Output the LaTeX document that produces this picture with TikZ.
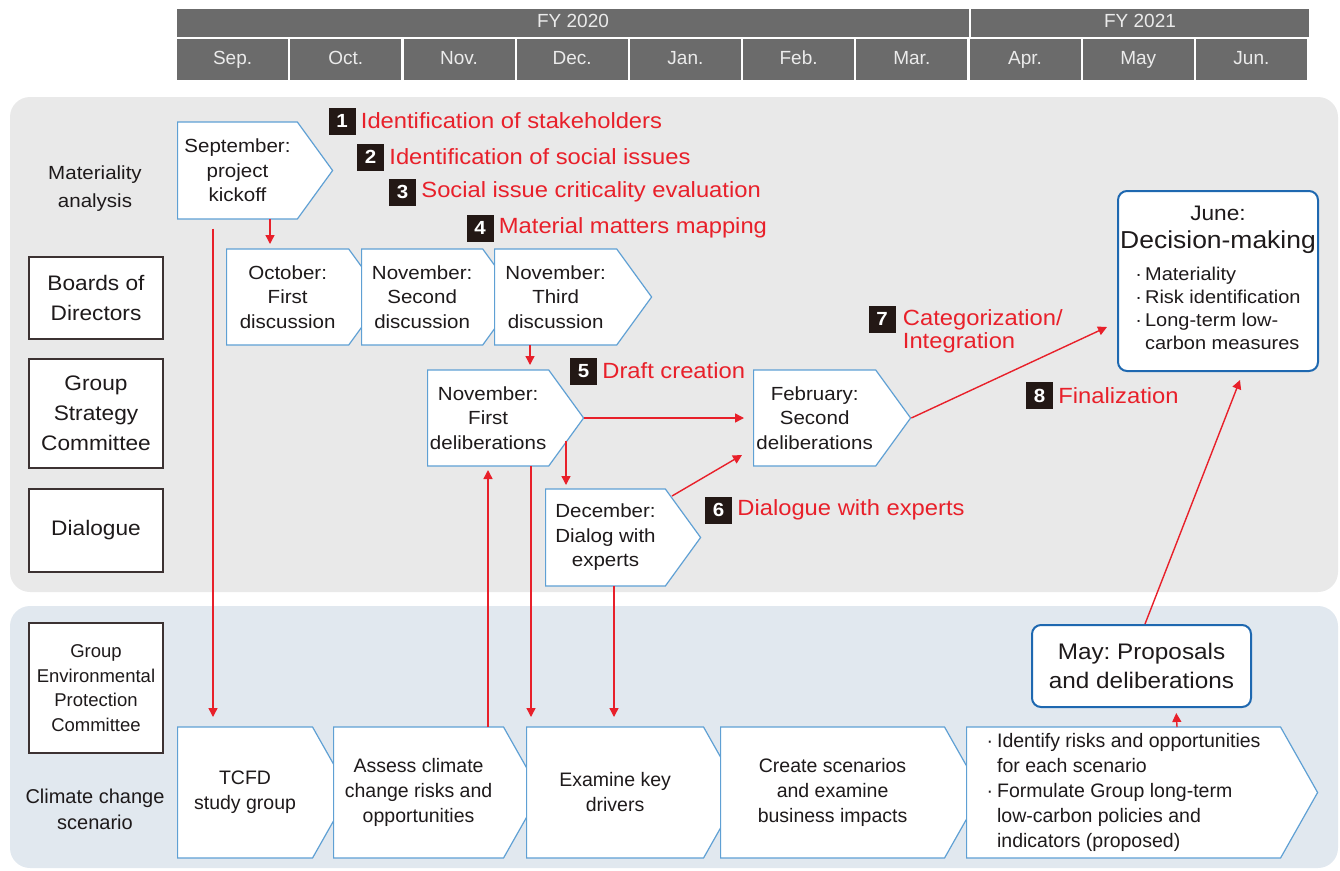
\documentclass[tikz,border=0pt]{standalone}
\usepackage{fontspec}
\setmainfont{Liberation Sans}[FakeStretch=1.08]
\newfontfamily\plainsf{Liberation Sans}
\usetikzlibrary{shapes.symbols,positioning,arrows.meta}
\definecolor{hdrgray}{RGB}{107,107,107}
\definecolor{panelgray}{RGB}{233,233,233}
\definecolor{panelblue}{RGB}{225,232,239}
\definecolor{stepblue}{RGB}{95,160,212}
\definecolor{deepblue}{RGB}{30,104,176}
\definecolor{keyred}{RGB}{232,32,42}
\definecolor{numblack}{RGB}{35,24,21}
\definecolor{inkgray}{RGB}{30,26,27}
\definecolor{rowedge}{RGB}{60,50,50}

\tikzset{
  fycell/.style={fill=hdrgray, text=white!92!black, minimum height=28pt, inner sep=0pt,
    text height=13.5pt, text depth=4pt, font=\plainsf\fontsize{19}{22}\selectfont},
  monthcell/.style={fycell, minimum height=41pt, minimum width=111pt},
  rowbox/.style={draw=rowedge, fill=white, line width=1.3pt, minimum width=134pt,
    inner sep=0pt, align=center, font=\fontsize{21}{30}\selectfont},
  midstep/.style={signal, signal to=east, signal from=nowhere, signal pointer angle=108,
    anchor=west, minimum height=97pt, draw=stepblue, fill=white, line width=1.2pt,
    inner sep=0pt, align=center, font=\fontsize{19}{24.5}\selectfont},
  lowstep/.style={midstep, signal pointer angle=121, minimum height=131pt,
    font=\plainsf\fontsize{19.5}{25}\selectfont},
  roundbox/.style={draw=deepblue, fill=white, line width=2pt, rounded corners=9pt,
    inner sep=0pt, align=center},
  numsq/.style={fill=numblack, text=white, minimum size=27pt, inner sep=0pt,
    font=\bfseries\fontsize{19}{19}\selectfont},
  keytext/.style={text=keyred, inner sep=0pt, font=\fontsize{22}{23}\selectfont},
  redline/.style={draw=keyred, line width=1.4pt},
  redarrow/.style={redline, -{Triangle[length=9pt,width=9pt]}}
}

\begin{document}
\frenchspacing
\begin{tikzpicture}[x=1pt,y=-1pt,every node/.append style={text=inkgray}]
\useasboundingbox (0,0) rectangle (1340,870);

% time line
\node[fycell, minimum width=792pt] (fy20) at (573,23) {FY 2020};
\node[fycell, minimum width=338pt] (fy21) at (1140,23) {FY 2021};
\foreach \m [count=\i from 0] in {Sep.,Oct.,Nov.,Dec.,Jan.,Feb.,Mar.,Apr.,May,Jun.}
  \node[monthcell] (mon\i) at ({232.6+113.2*\i},59.5) {\m};

% lanes
\fill[panelgray, rounded corners=20pt] (10,97) rectangle (1338,592);
\fill[panelblue, rounded corners=20pt] (10,606) rectangle (1338,868);

\node[align=center, font=\fontsize{19}{28}\selectfont] (matlbl) at (95,189) {Materiality\\analysis};
\node[rowbox, minimum height=82pt] (board) at (96,298) {Boards of\\Directors};
\node[rowbox, minimum height=109pt] (gsc) at (96,413.5) {Group\\Strategy\\Committee};
\node[rowbox, minimum height=83pt] (dial) at (96,530.5) {Dialogue};
\node[rowbox, minimum height=130pt, font=\plainsf\fontsize{18.5}{24.5}\selectfont] (gepc) at (96,688)
  {Group\\Environmental\\Protection\\Committee};
\node[align=center, font=\plainsf\fontsize{20}{26}\selectfont] (ccslbl) at (95,809) {Climate change\\scenario};

% materiality steps
\node[midstep, minimum width=155pt] (kick) at (177,170.5) {September:\\project\\kickoff};
\node[midstep, minimum width=157pt, minimum height=96pt] (oct) at (226,297) {October:\\First\\discussion};
\node[midstep, minimum width=156pt, minimum height=96pt] (nov2) at (361,297) {November:\\Second\\discussion};
\node[midstep, minimum width=157pt, minimum height=96pt] (nov3) at (494,297) {November:\\Third\\discussion};
\node[midstep, minimum width=156pt, minimum height=96pt] (delib1) at (427,418) {November:\\First\\deliberations};
\node[midstep, minimum width=155pt] (dec) at (545,537.5) {December:\\Dialog with\\experts};
\node[midstep, minimum width=157pt, minimum height=96pt] (delib2) at (753,418) {February:\\Second\\deliberations};

\node[roundbox, minimum width=200pt, minimum height=180pt, text width=196pt] (june) at (1218,281)
  {\spaceskip=0pt \xspaceskip=0pt
   {\fontsize{21}{26}\selectfont June:\par}
   {\fontsize{24.5}{28.5}\selectfont Decision-making\par}
   \vspace{9pt}
   {\fontsize{18.5}{23}\selectfont
   \begin{tabular}[t]{@{}l@{\hspace{3pt}}l@{}}
   ·&Materiality\\ ·&Risk identification\\ ·&Long-term low-\\ &carbon measures
   \end{tabular}\par}};

% climate change steps
\node[lowstep, minimum width=172pt] (tcfd) at (177,792.5) {TCFD\\study group};
\node[lowstep, minimum width=207pt] (assess) at (333,792.5) {Assess climate\\change risks and\\opportunities};
\node[lowstep, minimum width=214pt] (keydrv) at (526,792.5) {Examine key\\drivers};
\node[lowstep, minimum width=261pt] (scen) at (720,792.5) {Create scenarios\\and examine\\business impacts};
\node[lowstep, minimum width=351pt, align=left] (ident) at (966,792.5)
  {\begin{tabular}{@{}l@{\hspace{4pt}}l@{}}
   ·&Identify risks and opportunities\\ &for each scenario\\
   ·&Formulate Group long-term\\ &low-carbon policies and\\ &indicators (proposed)
   \end{tabular}};
\node[roundbox, minimum width=219pt, minimum height=82pt, font=\fontsize{22.5}{29}\selectfont] (may)
  at (1141.5,666) {May: Proposals\\and deliberations};

% numbered steps
\node[numsq] (n1) at (342,121) {1};
\node[keytext, right=5pt of n1] (k1) {Identification of stakeholders};
\node[numsq] (n2) at (370.5,157) {2};
\node[keytext, right=5pt of n2] (k2) {Identification of social issues};
\node[numsq] (n3) at (402.5,192) {3};
\node[keytext, right=5pt of n3] (k3) {Social issue criticality evaluation};
\node[numsq] (n4) at (480,228) {4};
\node[keytext, right=5pt of n4] (k4) {Material matters mapping};
\node[numsq] (n5) at (583.5,371) {5};
\node[keytext, right=5pt of n5] (k5) {Draft creation};
\node[numsq] (n6) at (718.5,510) {6};
\node[keytext, right=5pt of n6] (k6) {Dialogue with experts};
\node[numsq] (n7) at (882,319) {7};
\node[keytext, anchor=north west, align=left] (k7) at ([xshift=7pt,yshift=-4pt]n7.north east)
  {Categorization/\\Integration};
\node[numsq] (n8) at (1039.5,395.5) {8};
\node[keytext, right=5pt of n8] (k8) {Finalization};

% flows
\draw[redarrow, shorten >=5pt] ([shift={(93,48.5)}]kick.west) -- ([shift={(44,-48)}]oct.west);
\draw[redarrow, shorten >=10pt] ([shift={(36,58)}]kick.west) -- ([shift={(36,-65.5)}]tcfd.west);
\draw[redarrow, shorten >=5pt] ([shift={(36,48)}]nov3.west) -- ([shift={(103,-48)}]delib1.west);
\draw[redarrow, shorten >=9pt] (delib1.east) -- (delib2.west);
\draw[redarrow, shorten >=4pt] ([shift={(139,23)}]delib1.west) -- ([shift={(21,-48.5)}]dec.west);
\draw[redarrow] ([shift={(127,-41.5)}]dec.west) -- ([shift={(-11,37)}]delib2.west);
\draw[redarrow] (delib2.east) -- ([shift={(-10,46)}]june.west);
\draw[redarrow, shorten >=4pt] ([shift={(155,-65.5)}]assess.west) -- ([shift={(61,48)}]delib1.west);
\draw[redarrow, shorten >=10pt] ([shift={(104,48)}]delib1.west) -- ([shift={(5,-65.5)}]keydrv.west);
\draw[redarrow, shorten >=10pt] ([shift={(69,48.5)}]dec.west) -- ([shift={(88,-65.5)}]keydrv.west);
\draw[redarrow, shorten >=5pt] ([shift={(211,-65.5)}]ident.west) -- ([shift={(145,0)}]may.south west);
\draw[redarrow] ([shift={(114,0)}]may.north west) -- ([shift={(123,8)}]june.south west);
\end{tikzpicture}
\end{document}
